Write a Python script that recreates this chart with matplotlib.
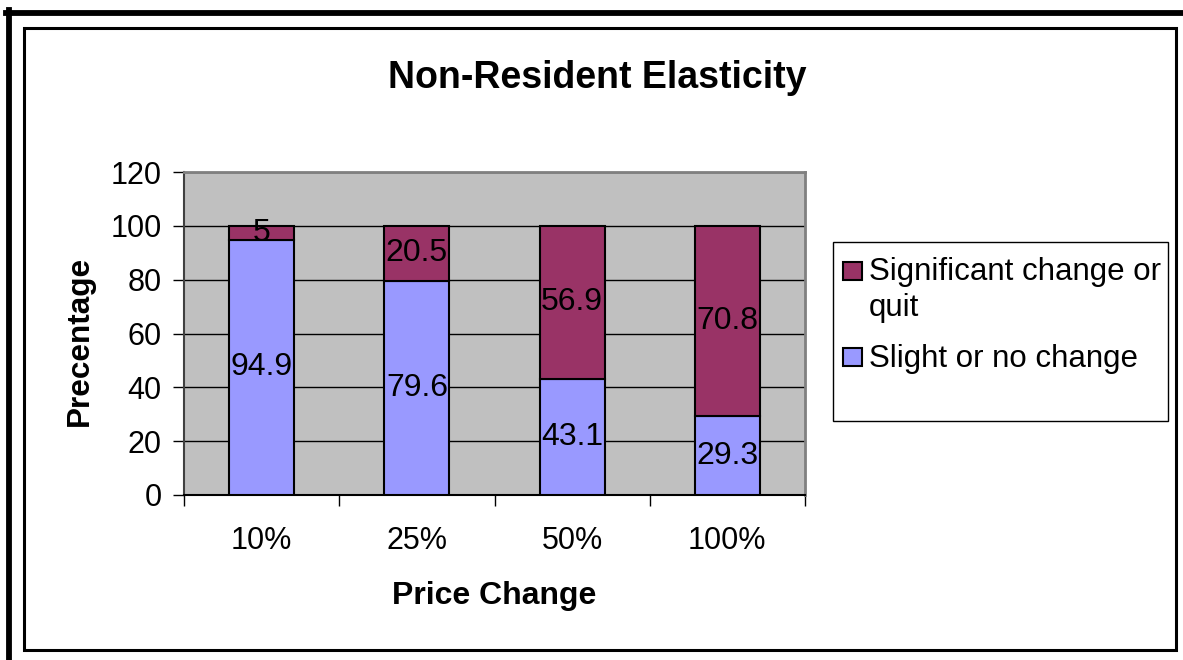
import matplotlib
matplotlib.use("Agg")
import matplotlib.pyplot as plt
from matplotlib.patches import Rectangle
from matplotlib.lines import Line2D
import numpy as np

plt.rcParams['font.family'] = ['Liberation Sans', 'DejaVu Sans']

categories = ["10%", "25%", "50%", "100%"]
slight = [94.9, 79.6, 43.1, 29.3]
significant = [5, 20.5, 56.9, 70.8]
yticks = [0, 20, 40, 60, 80, 100, 120]
series_names = ["Significant change or\nquit", "Slight or no change"]
colors = {"slight": "#9999FF", "significant": "#993366"}

W, H = 1183, 660
fig = plt.figure(figsize=(W / 100, H / 100), dpi=100)
fig.patch.set_facecolor("white")

def fx(px):
    return px / W

def fy(py):
    return 1 - py / H

# outer frame (top and left visible)
fig.add_artist(Line2D([fx(6), fx(1183)], [fy(12.5), fy(12.5)], color="black", lw=4.2, transform=fig.transFigure))
fig.add_artist(Line2D([fx(9), fx(9)], [fy(10), fy(660)], color="black", lw=4.2, transform=fig.transFigure))
# inner frame
fig.add_artist(Rectangle((fx(24), fy(650)), fx(1176) - fx(24), fy(28) - fy(650), fill=False,
                         edgecolor="black", lw=2.2, transform=fig.transFigure))

ax = fig.add_axes([fx(184), fy(495), fx(805) - fx(184), fy(172) - fy(495)])
ax.set_facecolor("#C0C0C0")
x = np.arange(len(categories))
width = 0.42
ax.set_axisbelow(True)
ax.yaxis.grid(True, color="black", lw=1.0)
ax.bar(x, slight, width, color=colors["slight"], edgecolor="black", lw=1.5, zorder=3)
ax.bar(x, significant, width, bottom=slight, color=colors["significant"], edgecolor="black", lw=1.5, zorder=3)

for i in range(len(categories)):
    ax.text(x[i], slight[i] / 2, f"{slight[i]:g}", ha="center", va="center", fontsize=23, zorder=4)
    ax.text(x[i], slight[i] + significant[i] / 2, f"{significant[i]:g}", ha="center", va="center",
            fontsize=23, zorder=4)

ax.set_xlim(-0.5, len(categories) - 0.5)
ax.set_ylim(0, 120)
ax.set_yticks(yticks)
ax.set_yticklabels([str(v) for v in yticks], fontsize=22)
ax.set_xticks(x)
ax.set_xticklabels(categories, fontsize=22)
ax.tick_params(axis="x", which="major", length=0, pad=22)
ax.set_xticks(np.arange(-0.5, len(categories)), minor=True)
ax.tick_params(axis="x", which="minor", length=8, width=1, color="black", direction="out")
ax.tick_params(axis="y", length=8, width=1, color="black", direction="out", pad=8)

for s in ["top", "right"]:
    ax.spines[s].set_color("#808080")
    ax.spines[s].set_linewidth(2)
ax.spines["left"].set_color("#404040")
ax.spines["left"].set_linewidth(1.5)
ax.spines["bottom"].set_color("black")
ax.spines["bottom"].set_linewidth(1.5)

fig.text(fx(597), fy(78), "Non-Resident Elasticity", ha="center", va="center", fontsize=27, fontweight="bold")
fig.text(fx(494), fy(596), "Price Change", ha="center", va="center", fontsize=23, fontweight="bold")
fig.text(fx(80), fy(341), "Precentage", ha="center", va="center", fontsize=22.7, fontweight="bold", rotation=90)

# legend box (drawn manually)
fig.add_artist(Rectangle((fx(833), fy(421)), fx(1168) - fx(833), fy(242) - fy(421), facecolor="white",
                         edgecolor="black", lw=1.0, transform=fig.transFigure))
leg_items = [(colors["significant"], series_names[0], 271, 290),
             (colors["slight"], series_names[1], 357, 359)]
for col, name, sq_y, txt_y in leg_items:
    fig.add_artist(Rectangle((fx(843), fy(sq_y + 9)), fx(862) - fx(843), fy(sq_y - 9) - fy(sq_y + 9),
                             facecolor=col, edgecolor="black", lw=1.5, transform=fig.transFigure))
    fig.text(fx(869), fy(txt_y), name, ha="left", va="center", fontsize=22.5, linespacing=1.25)

fig.savefig("out.png", dpi=100, facecolor="white")
